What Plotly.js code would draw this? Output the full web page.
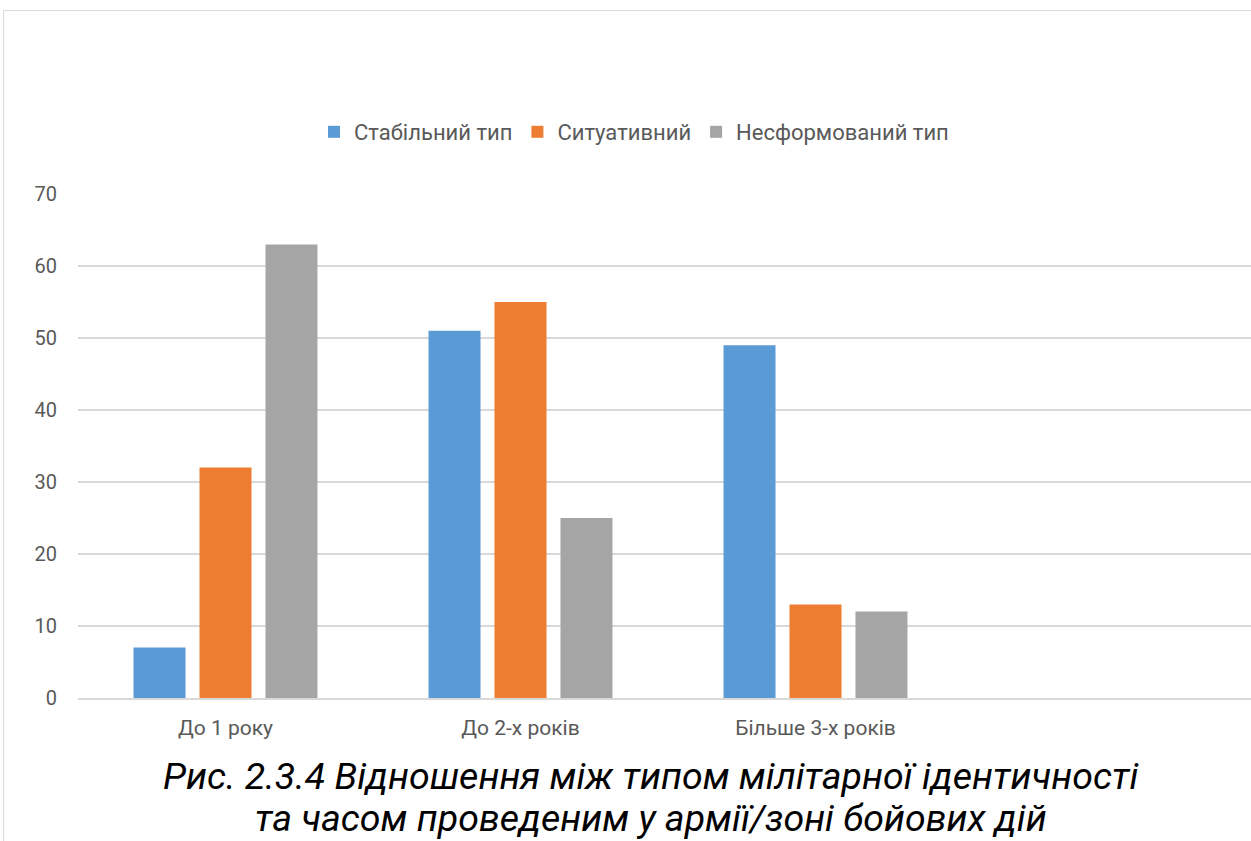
<!DOCTYPE html>
<html>
<head>
<meta charset="utf-8">
<script src="https://cdn.plot.ly/plotly-3.0.1.min.js"></script>
<style>
html, body { margin: 0; padding: 0; background: #fff; overflow: hidden; width: 1251px; height: 841px; }
#frame { position: absolute; left: 3px; top: 10px; width: 1400px; height: 1000px; border: 1.5px solid #d9d9d9; box-sizing: border-box; }
#chart { position: absolute; left: 0; top: 0; }
</style>
</head>
<body>
<div id="frame"></div>
<div id="chart"></div>
<script>
const categories = ["До 1 року", "До 2-х років", "Більше 3-х років", " "];
const seriesNames = ["Стабільний тип", "Ситуативний", "Несформований тип"];
const stableValues = [7, 51, 49, null];
const situationalValues = [32, 55, 13, null];
const unformedValues = [63, 25, 12, null];
const yTicks = [0, 10, 20, 30, 40, 50, 60, 70];
const captionLines = ["Рис. 2.3.4 Відношення між типом мілітарної ідентичності", "та часом проведеним у армії/зоні бойових дій"];

const colors = ["#5B9BD5", "#ED7D31", "#A5A5A5"];
const allValues = [stableValues, situationalValues, unformedValues];

const traces = allValues.map((vals, i) => ({
  type: "bar",
  name: seriesNames[i],
  x: categories,
  y: vals,
  marker: { color: colors[i] },
  hoverinfo: "none"
}));

const font = "Roboto, 'Noto Sans', sans-serif";

const layout = {
  width: 1270,
  height: 841,
  margin: { l: 78, r: 12, t: 194, b: 143 },
  paper_bgcolor: "rgba(0,0,0,0)",
  plot_bgcolor: "rgba(0,0,0,0)",
  barmode: "group",
  bargap: 0.329,
  bargroupgap: 0.212,
  font: { family: font, color: "#595959", size: 20 },
  showlegend: true,
  legend: {
    orientation: "h",
    x: (314 - 78) / 1180, xanchor: "left",
    y: (698 - 132) / 504, yanchor: "middle",
    font: { family: font, size: 22, color: "#595959" },
    itemwidth: 30,
    traceorder: "normal"
  },
  xaxis: {
    type: "category",
    range: [-0.5, 3.5],
    showgrid: false,
    showline: true,
    linecolor: "#d9d9d9",
    linewidth: 1.5,
    ticks: "",
    ticklabelstandoff: 10,
    tickfont: { family: font, size: 21, color: "#595959" },
    fixedrange: true
  },
  yaxis: {
    range: [0, 70],
    tickvals: yTicks,
    showgrid: true,
    gridcolor: "#d9d9d9",
    gridwidth: 1.3,
    zeroline: false,
    showline: false,
    ticks: "",
    ticklabelstandoff: 20,
    tickfont: { family: font, size: 20, color: "#595959" },
    fixedrange: true
  },
  annotations: captionLines.map((t, i) => ({
    text: "<i>" + t + "</i>",
    xref: "paper", yref: "paper",
    x: (651 - 78) / 1180, xanchor: "center",
    y: (698 - (776 + i * 42)) / 504, yanchor: "middle",
    showarrow: false,
    font: { family: font, size: 37.5, color: "#000000" }
  }))
};

Plotly.newPlot("chart", traces, layout, { staticPlot: true, displayModeBar: false });
</script>
</body>
</html>
